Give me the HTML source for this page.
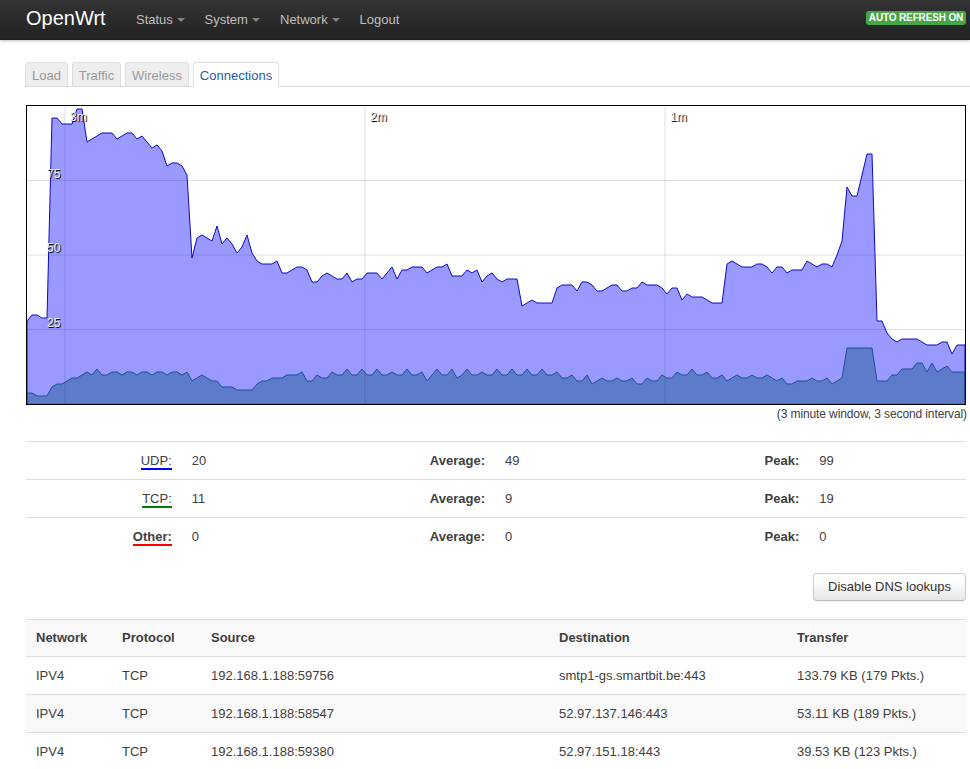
<!DOCTYPE html>
<html><head><meta charset="utf-8"><title>OpenWrt - Connections - LuCI</title>
<style>
*{box-sizing:border-box}
html,body{margin:0;padding:0}
html{overflow:hidden}
body{width:970px;height:769px;overflow:hidden;background:#fff;font-family:"Liberation Sans",sans-serif;font-size:13px;line-height:18px;color:#404040;position:relative}
header{position:absolute;left:0;top:0;width:970px;height:40px;background:linear-gradient(#333,#222);box-shadow:0 1px 3px rgba(0,0,0,.25),inset 0 -1px 0 rgba(0,0,0,.1)}
#brand{position:absolute;left:26px;top:7px;font-size:20px;line-height:22px;color:#fff;font-weight:200}
nav a{position:absolute;top:10px;color:#bfbfbf;font-size:13px;line-height:19px;white-space:nowrap}
nav a .c{display:inline-block;width:0;height:0;border-left:4px solid transparent;border-right:4px solid transparent;border-top:4px solid #bfbfbf;opacity:.6;margin-left:4px;vertical-align:2px}
#refresh{position:absolute;left:866px;top:11px;width:100px;height:14px;background:#46a546;border-radius:3px;color:#fff;font-weight:bold;font-size:10px;line-height:14px;text-align:center;white-space:nowrap;letter-spacing:-0.14px}
#tabs{position:absolute;left:25px;top:62px;width:945px;height:25px;border-bottom:1px solid #ddd}
.tab{position:absolute;top:0;height:24px;border:1px solid #ddd;border-bottom:0;border-radius:4px 4px 0 0;background:#eee;color:#999;font-size:13px;line-height:26px;text-align:center;overflow:hidden}
.tab.on{background:#fff;color:#1b5eb0;height:25px}
#chart{position:absolute;left:26px;top:105px;width:940px;height:300px;border:1px solid #000;background:#fff;display:block}
#cap{position:absolute;right:3px;top:405px;letter-spacing:-0.11px;font-size:12px;line-height:18px;color:#404040;white-space:nowrap}
table{border-collapse:separate;border-spacing:0;position:absolute;left:26px;width:940px;table-layout:fixed;font-size:13px}
td,th{padding:10px 10px 9px;line-height:18px;border-top:1px solid #ddd;text-align:left;vertical-align:middle;white-space:nowrap;height:38px}
#stats{top:441px}
#stats td.r{text-align:right}
#stats b{color:#404040}
#stats b.u{font-weight:normal}
#stats .u{border-bottom:2px solid}
#btn{position:absolute;left:813px;top:573px;width:153px;height:28px;border:1px solid #ccc;border-bottom-color:#bbb;border-radius:4px;background:linear-gradient(#fff,#fff 25%,#e6e6e6);font-size:13px;line-height:26px;text-align:center;color:#333;box-shadow:inset 0 1px 0 rgba(255,255,255,.2),0 1px 2px rgba(0,0,0,.05)}
#conn{top:619px}
#conn th{font-weight:bold;background:#f9f9f9;padding-top:9px;height:37px}
#conn tr.s td{background:#f9f9f9}
</style></head><body>
<header>
<div id="brand">OpenWrt</div>
<nav>
<a style="left:136px">Status<span class="c"></span></a>
<a style="left:204.5px">System<span class="c"></span></a>
<a style="left:280px">Network<span class="c"></span></a>
<a style="left:359.5px">Logout</a>
</nav>
<div id="refresh">AUTO REFRESH ON</div>
</header>
<div id="tabs">
<div class="tab" style="left:0;width:43px">Load</div>
<div class="tab" style="left:47px;width:49px">Traffic</div>
<div class="tab" style="left:100px;width:64px">Wireless</div>
<div class="tab on" style="left:168px;width:86px">Connections</div>
</div>
<svg id="chart" viewBox="0 0 938 298">
<line x1="0" y1="74.5" x2="938" y2="74.5" style="stroke:#000;stroke-width:1;stroke-opacity:.12"/>
<line x1="0" y1="149" x2="938" y2="149" style="stroke:#000;stroke-width:1;stroke-opacity:.12"/>
<line x1="0" y1="223.5" x2="938" y2="223.5" style="stroke:#000;stroke-width:1;stroke-opacity:.12"/>
<polyline points="0,298 0,215 5,209 10,209 15,212 20,212 25,12 30,12 35,18 40,18 45,18 50,3 55,3 60,36 65,33 70,30 75,27 80,27 85,27 90,33 95,30 100,27 105,27 110,33 115,30 120,36 125,42 130,39 135,45 140,60 145,57 150,57 155,60 160,69 165,152 170,132 175,129 180,132 185,135 190,120 195,138 200,132 205,138 210,147 215,141 220,129 225,147 230,155 235,158 240,158 245,158 250,155 255,167 260,167 265,164 270,161 275,161 280,164 285,176 290,176 295,170 300,167 305,170 310,173 315,173 320,167 325,176 330,173 335,173 340,167 345,167 350,167 355,173 360,167 365,161 370,173 375,164 380,164 385,161 390,161 395,161 400,167 405,164 410,161 415,161 420,158 425,170 430,170 435,170 440,164 445,167 450,164 455,176 460,170 465,167 470,173 475,176 480,173 485,173 490,173 495,200 500,197 505,194 510,197 515,197 520,197 525,197 530,182 535,179 540,179 545,179 550,185 555,176 560,176 565,179 570,185 575,185 580,182 585,179 590,179 595,185 600,185 605,182 610,182 615,176 620,179 625,179 630,179 635,182 640,188 645,182 650,182 655,194 660,188 665,191 670,191 675,191 680,194 685,197 690,197 695,197 700,158 705,155 710,158 715,161 720,161 725,161 730,158 735,158 740,161 745,167 750,161 755,161 760,167 765,164 770,164 775,164 780,155 785,158 790,161 795,158 800,158 805,161 810,149 815,135 820,81 825,90 830,90 835,69 840,48 845,48 850,215 855,215 860,227 865,233 870,236 875,233 880,233 885,233 890,233 895,236 900,239 905,239 910,239 915,236 920,236 925,248 930,239 938,239 938,298" style="fill:#00f;fill-opacity:.4;stroke:#0a0ac8;stroke-width:1"/>
<polyline points="0,298 0,287 5,287 10,290 15,290 20,290 25,281 30,278 35,278 40,275 45,272 50,272 55,269 60,266 65,269 70,263 75,269 80,269 85,266 90,266 95,269 100,266 105,266 110,269 115,266 120,266 125,269 130,266 135,266 140,269 145,266 150,266 155,269 160,266 165,275 170,272 175,269 180,272 185,275 190,275 195,281 200,281 205,281 210,284 215,284 220,284 225,284 230,278 235,275 240,275 245,272 250,272 255,272 260,269 265,269 270,269 275,266 280,275 285,275 290,269 295,272 300,272 305,266 310,269 315,269 320,263 325,269 330,269 335,263 340,269 345,269 350,263 355,269 360,269 365,266 370,269 375,269 380,263 385,269 390,269 395,266 400,275 405,269 410,263 415,269 420,269 425,263 430,272 435,269 440,263 445,269 450,269 455,266 460,269 465,269 470,263 475,269 480,269 485,263 490,269 495,269 500,263 505,269 510,269 515,263 520,269 525,269 530,266 535,272 540,272 545,269 550,275 555,275 560,269 565,278 570,275 575,272 580,275 585,275 590,272 595,275 600,275 605,272 610,278 615,278 620,272 625,275 630,275 635,269 640,272 645,272 650,266 655,269 660,269 665,263 670,269 675,269 680,266 685,272 690,272 695,269 700,275 705,272 710,269 715,272 720,272 725,269 730,272 735,272 740,269 745,272 750,275 755,272 760,278 765,278 770,275 775,275 780,275 785,272 790,275 795,275 800,272 805,278 810,275 815,272 820,242 825,242 830,242 835,242 840,242 845,242 850,275 855,275 860,275 865,269 870,269 875,263 880,263 885,263 890,257 895,257 900,266 905,257 910,266 915,263 920,260 925,266 930,266 938,266 938,298" style="fill:#005078;fill-opacity:.4;stroke:#1f4f96;stroke-width:1"/>
<polyline points="0,298 938,298" style="fill:none;stroke:#f00;stroke-opacity:.5;stroke-width:1"/>
<text x="20" y="71.5" style="fill:#eee;font-size:12px;font-family:&quot;Liberation Sans&quot;,sans-serif;text-shadow:1px 1px .7px #000">75</text>
<text x="20" y="146" style="fill:#eee;font-size:12px;font-family:&quot;Liberation Sans&quot;,sans-serif;text-shadow:1px 1px .7px #000">50</text>
<text x="20" y="220.5" style="fill:#eee;font-size:12px;font-family:&quot;Liberation Sans&quot;,sans-serif;text-shadow:1px 1px .7px #000">25</text>
<line x1="38" y1="0" x2="38" y2="298" style="stroke:#000;stroke-width:1;stroke-opacity:.12"/>
<text x="43" y="15" style="fill:#eee;font-size:12px;font-family:&quot;Liberation Sans&quot;,sans-serif;text-shadow:1px 1px .7px #000">3m</text>
<line x1="338" y1="0" x2="338" y2="298" style="stroke:#000;stroke-width:1;stroke-opacity:.12"/>
<text x="343" y="15" style="fill:#eee;font-size:12px;font-family:&quot;Liberation Sans&quot;,sans-serif;text-shadow:1px 1px .7px #000">2m</text>
<line x1="638" y1="0" x2="638" y2="298" style="stroke:#000;stroke-width:1;stroke-opacity:.12"/>
<text x="643" y="15" style="fill:#eee;font-size:12px;font-family:&quot;Liberation Sans&quot;,sans-serif;text-shadow:1px 1px .7px #000">1m</text>
</svg>
<div id="cap">(3 minute window, 3 second interval)</div>
<table id="stats"><colgroup><col style="width:155.8px"><col style="width:156.6px"><col style="width:156.6px"><col style="width:157.2px"><col style="width:157.13px"><col></colgroup>
<tr><td class="r"><b class="u" style="border-color:#00f">UDP:</b></td><td>20</td><td class="r"><b>Average:</b></td><td>49</td><td class="r"><b>Peak:</b></td><td>99</td></tr>
<tr><td class="r"><b class="u" style="border-color:#008000">TCP:</b></td><td>11</td><td class="r"><b>Average:</b></td><td>9</td><td class="r"><b>Peak:</b></td><td>19</td></tr>
<tr><td class="r"><b class="u" style="border-color:#f00;font-weight:bold">Other:</b></td><td>0</td><td class="r"><b>Average:</b></td><td>0</td><td class="r"><b>Peak:</b></td><td>0</td></tr>
</table>
<div id="btn">Disable DNS lookups</div>
<table id="conn"><colgroup><col style="width:86px"><col style="width:89px"><col style="width:348px"><col style="width:238px"><col></colgroup>
<tr><th>Network</th><th>Protocol</th><th>Source</th><th>Destination</th><th>Transfer</th></tr>
<tr><td>IPV4</td><td>TCP</td><td>192.168.1.188:59756</td><td>smtp1-gs.smartbit.be:443</td><td>133.79 KB (179 Pkts.)</td></tr>
<tr class="s"><td>IPV4</td><td>TCP</td><td>192.168.1.188:58547</td><td>52.97.137.146:443</td><td>53.11 KB (189 Pkts.)</td></tr>
<tr><td>IPV4</td><td>TCP</td><td>192.168.1.188:59380</td><td>52.97.151.18:443</td><td>39.53 KB (123 Pkts.)</td></tr>
</table>
</body></html>
